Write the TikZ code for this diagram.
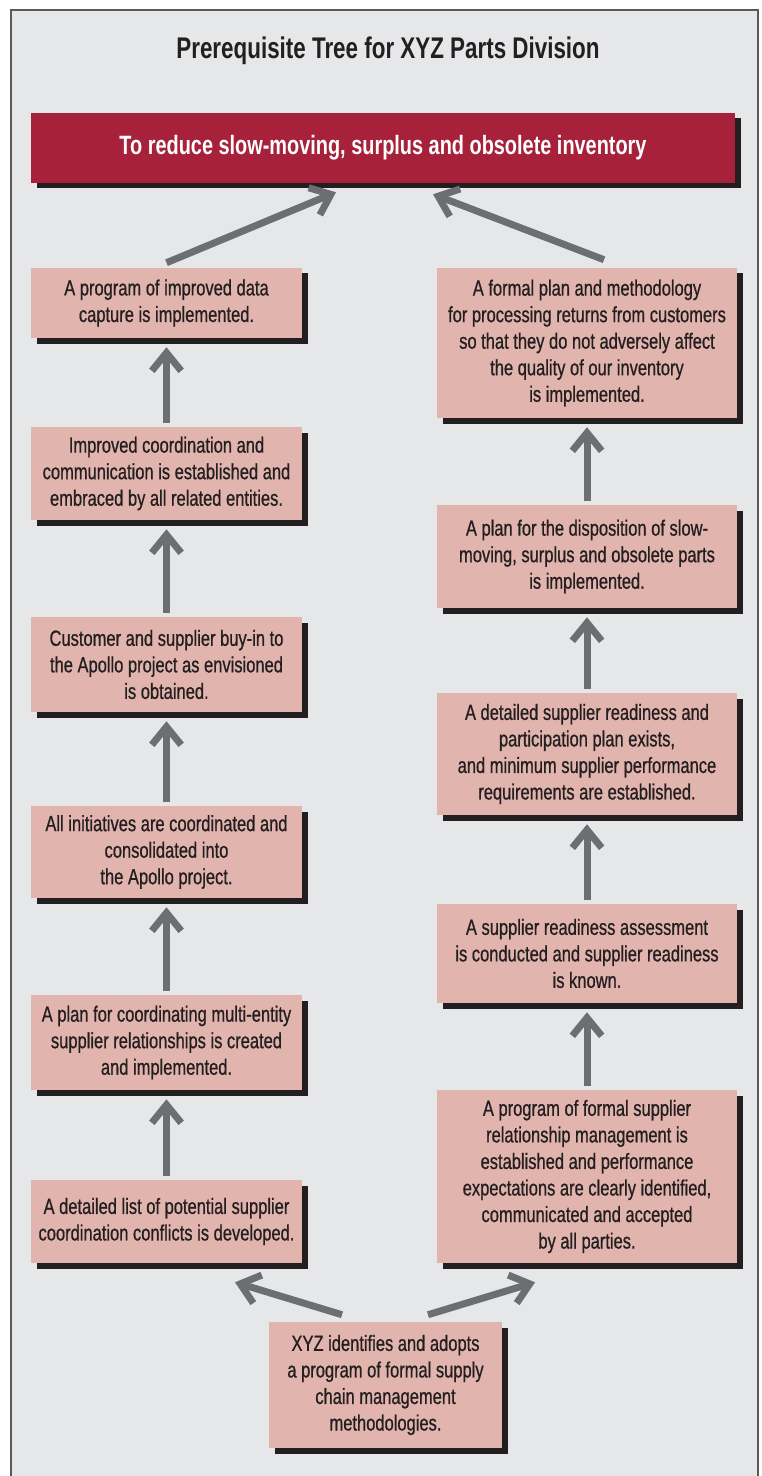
\documentclass[tikz,border=0pt]{standalone}
\usepackage{fontspec}
\setmainfont{Liberation Sans}[FakeStretch=0.75, UprightFeatures={FakeBold=0.7}]
\usetikzlibrary{arrows.meta,shadows}
\definecolor{bgc}{HTML}{E6E7E8}
\definecolor{framec}{HTML}{58595B}
\definecolor{redc}{HTML}{A8213B}
\definecolor{pinkc}{HTML}{E2B4AE}
\definecolor{shadc}{HTML}{231F20}
\definecolor{arrc}{HTML}{6D6E71}
\begin{document}
\begin{tikzpicture}[x=0.75pt,y=-0.75pt,
  shbox/.style={inner sep=0pt, align=center,
    drop shadow={opacity=1, fill=shadc, shadow xshift=4.125pt, shadow yshift=-4.125pt}},
  box/.style={shbox, fill=pinkc, text=shadc, font=\fontsize{16.5}{19.9}\selectfont},
  lbox/.style={box, minimum width=203.25pt},
  rbox/.style={box, minimum width=225pt},
  arr/.style={draw=arrc, line width=5.25pt, -{Straight Barb[length=13.5pt, width=22pt]}}
]
\useasboundingbox (0,0) rectangle (762,1476);
\fill[white] (0,0) rectangle (762,1476);
\draw[framec, line width=1.5pt, fill=bgc] (11,10) rectangle (758,1490);

\node[text=shadc, font=\bfseries\fontsize{22.4}{26}\selectfont] (title) at (388,51) {Prerequisite Tree for XYZ Parts Division};

\node[shbox, fill=redc, text=white, font=\bfseries\fontsize{19.9}{23}\selectfont,
  minimum width=528pt, minimum height=52.5pt] (top) at (383,148)
  {To reduce slow-moving, surplus and obsolete inventory};

% left column
\node[lbox, minimum height=52.5pt] (L1) at (166.5,303) {A program of improved data\\capture is implemented.};
\node[lbox, minimum height=69.75pt] (L2) at (166.5,473.5) {Improved coordination and\\communication is established and\\embraced by all related entities.};
\node[lbox, minimum height=71.25pt] (L3) at (166.5,664.5) {Customer and supplier buy-in to\\the Apollo project as envisioned\\is obtained.};
\node[lbox, minimum height=69pt] (L4) at (166.5,852) {All initiatives are coordinated and\\consolidated into\\the Apollo project.};
\node[lbox, minimum height=71.25pt] (L5) at (166.5,1042.5) {A plan for coordinating multi-entity\\supplier relationships is created\\and implemented.};
\node[lbox, minimum height=62.25pt] (L6) at (166.5,1221.5) {A detailed list of potential supplier\\coordination conflicts is developed.};

% right column
\node[rbox, minimum height=112.5pt] (R1) at (587,343) {A formal plan and methodology\\for processing returns from customers\\so that they do not adversely affect\\the quality of our inventory\\is implemented.};
\node[rbox, minimum height=77.25pt] (R2) at (587,556.5) {A plan for the disposition of slow-\\moving, surplus and obsolete parts\\is implemented.};
\node[rbox, minimum height=91.5pt] (R3) at (587,754) {A detailed supplier readiness and\\participation plan exists,\\and minimum supplier performance\\requirements are established.};
\node[rbox, minimum height=74.25pt] (R4) at (587,953.5) {A supplier readiness assessment\\is conducted and supplier readiness\\is known.};
\node[rbox, minimum height=129.75pt] (R5) at (587,1176.5) {A program of formal supplier\\relationship management is\\established and performance\\expectations are clearly identified,\\communicated and accepted\\by all parties.};

% bottom
\node[box, minimum width=174.75pt, minimum height=94.5pt] (B) at (385.5,1385) {XYZ identifies and adopts\\a program of formal supply\\chain management\\methodologies.};

% vertical arrows
\foreach \a/\b in {L2/L1,L3/L2,L4/L3,L5/L4,L6/L5,R2/R1,R3/R2,R4/R3,R5/R4}
  \draw[arr] ([yshift=3pt]\a.north) -- ([yshift=-6.75pt]\b.south);

% diagonal arrows
\draw[arr] ([yshift=3.75pt]L1.north) -- ([xshift=-35.25pt,yshift=-6.75pt]top.south);
\draw[arr] ([xshift=12.75pt,yshift=6pt]R1.north) -- ([xshift=37.5pt,yshift=-8.25pt]top.south);
\draw[arr] ([xshift=-32.625pt,yshift=5.25pt]B.north) -- ([xshift=51.375pt,yshift=-14.25pt]L6.south);
\draw[arr] ([xshift=31.875pt,yshift=5.25pt]B.north) -- ([xshift=-39pt,yshift=-14.25pt]R5.south);
\end{tikzpicture}
\end{document}
